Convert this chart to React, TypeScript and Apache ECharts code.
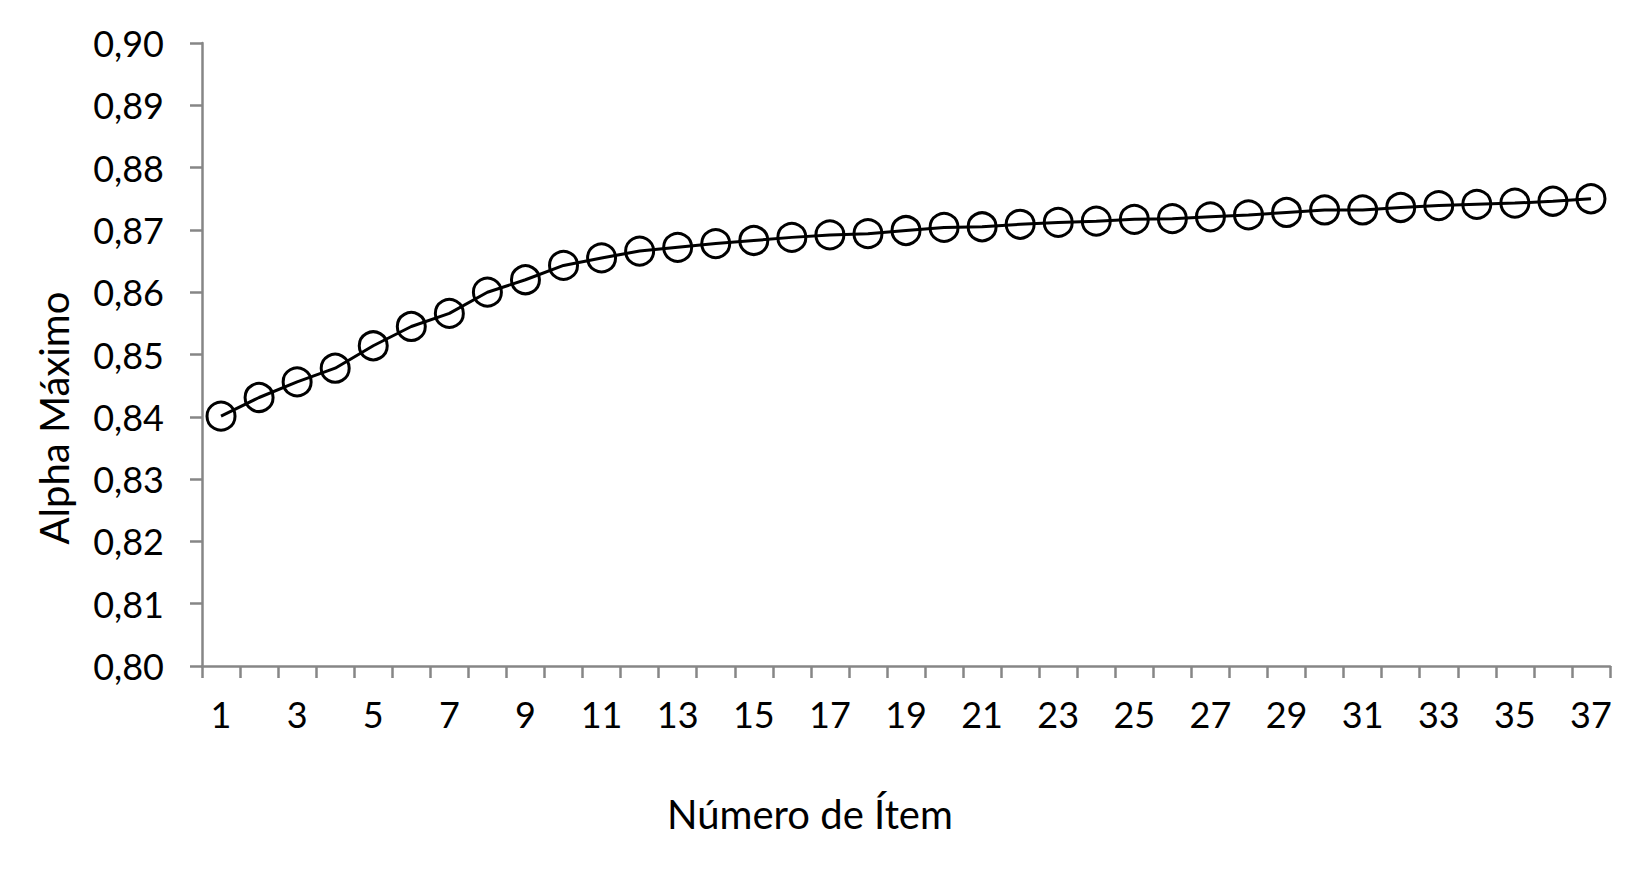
import React, { useEffect, useRef } from "react";
import * as echarts from "echarts";

const items = [
  "1", "2", "3", "4", "5", "6", "7", "8", "9", "10",
  "11", "12", "13", "14", "15", "16", "17", "18", "19", "20",
  "21", "22", "23", "24", "25", "26", "27", "28", "29", "30",
  "31", "32", "33", "34", "35", "36", "37",
];

const alphaMax = [
  0.8401, 0.8431, 0.8456, 0.8478, 0.8514, 0.8545, 0.8566, 0.8600, 0.8620, 0.8643,
  0.8655, 0.8666, 0.8672, 0.8678, 0.8683, 0.8688, 0.8692, 0.8694, 0.8699, 0.8704,
  0.8705, 0.8709, 0.8712, 0.8714, 0.8717, 0.8718, 0.8721, 0.8724, 0.8728, 0.8732,
  0.8732, 0.8736, 0.8739, 0.8741, 0.8743, 0.8746, 0.8750,
];

const yTickLabels = ["0,80", "0,81", "0,82", "0,83", "0,84", "0,85", "0,86", "0,87", "0,88", "0,89", "0,90"];

const xAxisTitle = "Número de Ítem";
const yAxisTitle = "Alpha Máximo";

const FONT = "Lato";
const AXIS_GRAY = "#868686";

export default function App() {
  const ref = useRef<HTMLDivElement>(null);

  useEffect(() => {
    if (!ref.current) return;
    const chart = echarts.init(ref.current, undefined, { renderer: "svg" });
    chart.setOption({
      animation: false,
      backgroundColor: "#ffffff",
      grid: { left: 202, right: 40, top: 43, bottom: 219, containLabel: false },
      xAxis: {
        type: "category",
        data: items,
        boundaryGap: true,
        axisLine: { show: true, lineStyle: { color: AXIS_GRAY, width: 2.5 } },
        axisTick: { show: true, interval: 0, length: 12, lineStyle: { color: AXIS_GRAY, width: 2.5 } },
        axisLabel: {
          interval: 1,
          margin: 30,
          color: "#000",
          fontFamily: FONT,
          fontSize: 36,
        },
        splitLine: { show: false },
      },
      yAxis: {
        type: "value",
        min: 0.8,
        max: 0.9,
        interval: 0.01,
        axisLine: { show: true, lineStyle: { color: AXIS_GRAY, width: 2.5 } },
        axisTick: { show: true, length: 12, lineStyle: { color: AXIS_GRAY, width: 2.5 } },
        axisLabel: {
          margin: 38,
          color: "#000",
          fontFamily: FONT,
          fontSize: 36,
          formatter: (v: number) => yTickLabels[Math.round((v - 0.8) / 0.01)] ?? "",
        },
        splitLine: { show: false },
      },
      graphic: [
        {
          type: "text",
          x: 810,
          y: 814,
          style: {
            text: xAxisTitle,
            fontFamily: FONT,
            fontSize: 40,
            fill: "#000",
            align: "center",
            verticalAlign: "middle",
          },
        },
        {
          type: "text",
          x: 54,
          y: 418,
          rotation: Math.PI / 2,
          style: {
            text: yAxisTitle,
            fontFamily: FONT,
            fontSize: 40,
            fill: "#000",
            align: "center",
            verticalAlign: "middle",
          },
        },
      ],
      series: [
        {
          type: "line",
          data: alphaMax,
          symbol: "circle",
          symbolSize: 28,
          showAllSymbol: true,
          itemStyle: { color: "rgba(255,255,255,0)", borderColor: "#000", borderWidth: 3 },
          lineStyle: { color: "#000", width: 3 },
        },
      ],
    });
    return () => chart.dispose();
  }, []);

  return (
    <div
      ref={ref}
      style={{ position: "fixed", left: 0, top: 0, width: 1650, height: 885, background: "#fff" }}
    />
  );
}
